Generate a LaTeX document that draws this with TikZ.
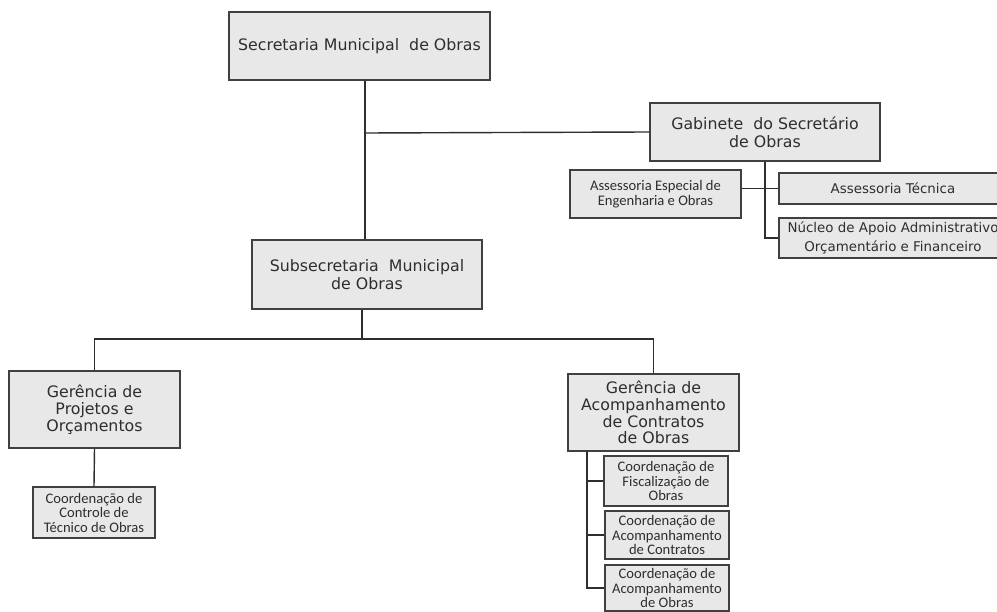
\documentclass[tikz,border=0pt]{standalone}
\usepackage{fontspec}
\setmainfont{DejaVu Sans}
\newfontfamily\smallfont{Carlito}
\definecolor{boxfill}{HTML}{E8E8E8}
\definecolor{boxline}{HTML}{404040}
\definecolor{inkgray}{HTML}{2E2E2E}
\tikzstyle{unit} = [rectangle, draw=boxline, fill=boxfill, line width=1.3pt, text=inkgray, align=center, inner sep=0pt, font=\fontsize{15.8}{18}\selectfont]
\tikzstyle{manager} = [unit, font=\fontsize{15.8}{16.8}\selectfont]
\tikzstyle{staff} = [unit, font=\fontsize{13.4}{18.5}\selectfont]
\tikzstyle{subunit} = [unit, font=\smallfont\fontsize{14.6}{14.5}\selectfont]
\tikzstyle{link} = [line width=1.4pt, draw=inkgray]

\begin{document}
\begin{tikzpicture}[x=1pt,y=-1pt]
\useasboundingbox (0,0) rectangle (997,612);
\clip (0,0) rectangle (997,612);

\node (sec) [unit, minimum width=261, minimum height=68] at (359.5,46) {Secretaria Municipal \ de Obras};
\node (gab) [unit, minimum width=230, minimum height=58] at (765,132) {Gabinete \ do Secretário\\de Obras};
\node (aesp) [subunit, minimum width=171, minimum height=48] at (655.5,194) {Assessoria Especial de\\Engenharia e Obras};
\node (atec) [staff, minimum width=228, minimum height=31] at (893,188.5) {Assessoria Técnica};
\node (nuc) [staff, minimum width=228, minimum height=40] at (893,238) {Núcleo de Apoio Administrativo\\Orçamentário e Financeiro};
\node (sub) [unit, minimum width=230, minimum height=69] at (367,274.5) {Subsecretaria \ Municipal\\de Obras};
\node (gp) [manager, minimum width=171, minimum height=77] at (94.5,409.5) {Gerência de\\Projetos e\\Orçamentos};
\node (cct) [subunit, minimum width=122, minimum height=51] at (94,512.5) {Coordenação de\\Controle de\\Técnico de Obras};
\node (gac) [manager, minimum width=171, minimum height=77] at (653.5,412.5) {Gerência de\\Acompanhamento\\de Contratos\\de Obras};
\node (cf) [subunit, minimum width=124, minimum height=50] at (666,481) {Coordenação de\\Fiscalização de\\Obras};
\node (cac) [subunit, minimum width=124, minimum height=48] at (667,535) {Coordenação de\\Acompanhamento\\de Contratos};
\node (cao) [subunit, minimum width=124, minimum height=46] at (667,588) {Coordenação de\\Acompanhamento\\de Obras};

\coordinate (spine) at (365,133);
\coordinate (bar) at (362,339);
\coordinate (trunk) at (587,451);

\draw [link] (sec.south -| spine) -- (sub.north -| spine);
\draw [link] (spine) -- (gab.west);
\draw [link] (gab.south) |- (nuc.west);
\draw [link] (aesp.east |- atec.west) -- (atec.west);
\draw [link] (sub.south -| bar) -- (bar);
\draw [link] (gp.north) |- (bar) -| (gac.north);
\draw [link] (gp.south) -- (cct.north);
\draw [link] (trunk) |- (cao.west);
\foreach \c in {cf,cac}
  \draw [link] (trunk |- \c.west) -- (\c.west);
\end{tikzpicture}
\end{document}
